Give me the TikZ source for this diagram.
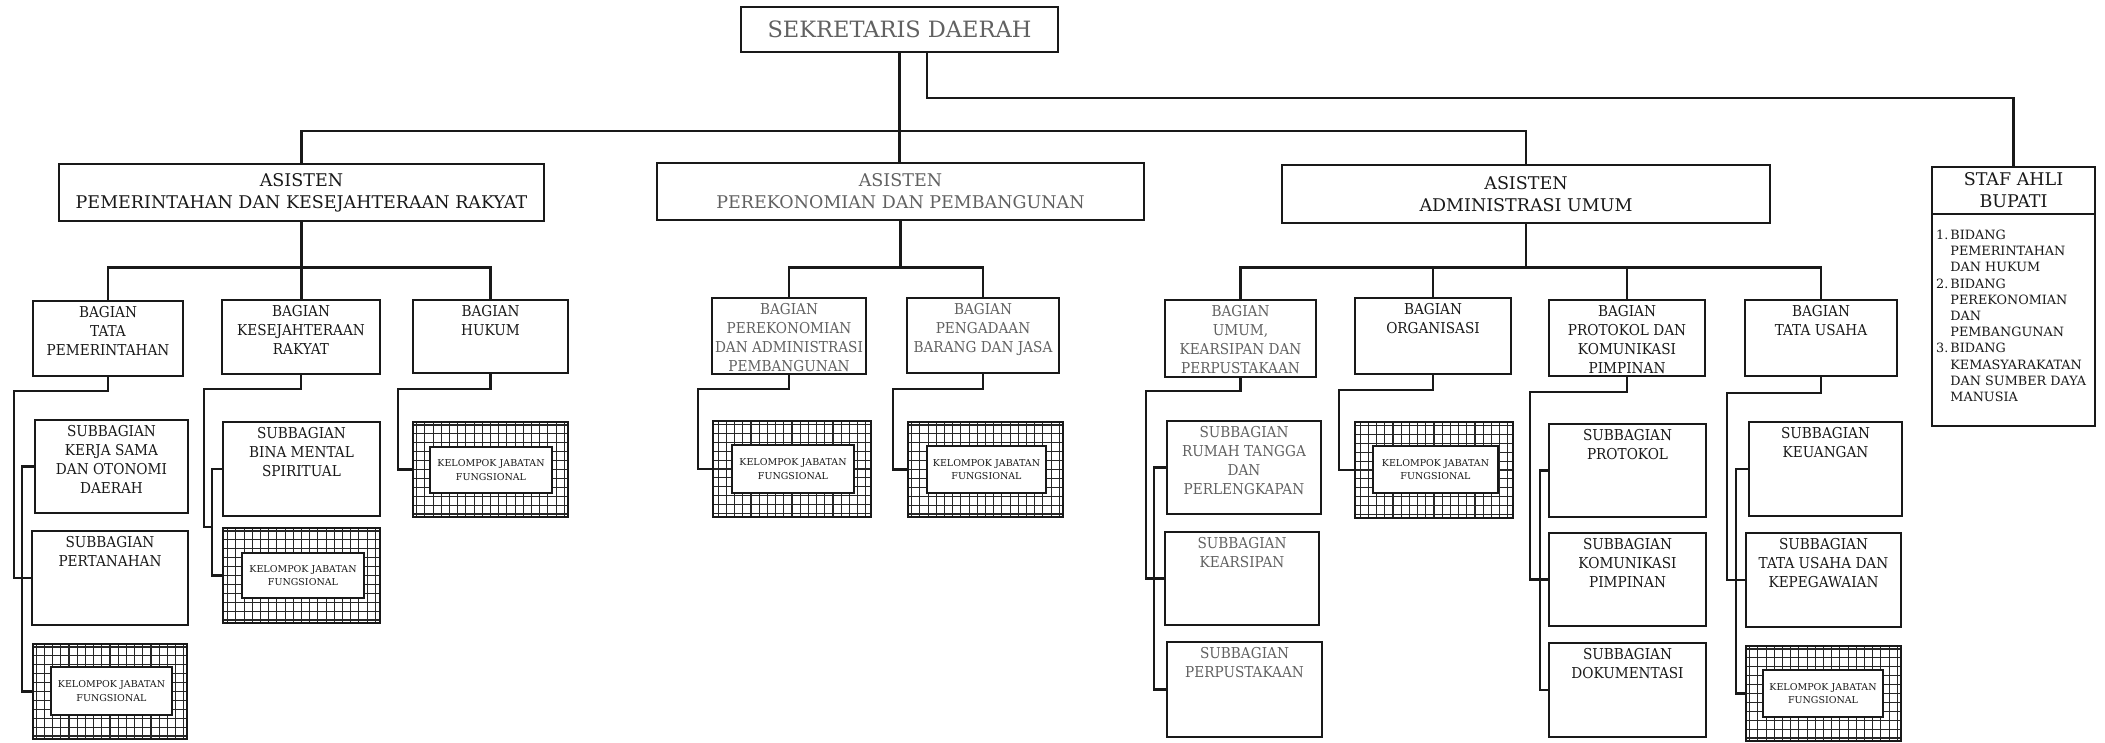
\documentclass[tikz,border=0pt]{standalone}
\usepackage{fontspec}
\setmainfont{DejaVu Serif}
\newfontfamily\narrowserif{DejaVu Serif}[FakeStretch=0.91]
\newcommand\mkbox[5]{\node[bx, minimum width={(#4)-(#2)}, minimum height={(#5)-(#3)}] (#1) at (#2,#3) {};}
\newcommand\mkgrid[9]{%
  \node[gbx, minimum width={(#4)-(#2)}, minimum height={(#5)-(#3)}] (#1) at (#2,#3) {};
  \node[ibx, minimum width={(#8)-(#6)}, minimum height={(#9)-(#7)}] (#1i) at (#6,#7) {};
  \node[kjt] (#1t) at (#1i.center) {KELOMPOK JABATAN\\FUNGSIONAL};}
\begin{document}
\begin{tikzpicture}[x=1pt,y=-1pt,
  bx/.style={draw=black!90, line width=2.6pt, inner sep=0pt, outer sep=0pt, anchor=north west},
  gbx/.style={bx, path picture={\draw[line width=1.1pt, black!85] ([xshift=-1pt,yshift=-1pt]path picture bounding box.south west) grid[xstep=8.2pt,ystep=8.9pt] (path picture bounding box.north east);}},
  ibx/.style={bx, fill=white, line width=2.3pt},
  cn/.style={draw=black!90, line width=2.2pt},
  txt/.style={inner sep=0pt, align=center, text=black!90},
  lite/.style={text=black!62},
  hdt/.style={txt, font=\fontsize{22.5}{26}\selectfont},
  ast/.style={txt, font=\fontsize{17.5}{22}\selectfont},
  bgt/.style={txt, anchor=north, font=\narrowserif\fontsize{15}{19}\selectfont},
  sbt/.style={txt, anchor=north, font=\narrowserif\fontsize{15}{19}\selectfont},
  kjt/.style={txt, font=\fontsize{9.5}{13.5}\selectfont},
  stt/.style={txt, font=\fontsize{17.5}{22}\selectfont},
  lst/.style={inner sep=0pt, anchor=north west, text=black!90, font=\fontsize{12.8}{16.2}\selectfont}]
\useasboundingbox[fill=white] (0,0) rectangle (2105,743);

% ---------- top level ----------
\mkbox{sek}{741}{7}{1058}{52}
\node[hdt, lite] (sekT) at (sek.center) {SEKRETARIS DAERAH};

\mkbox{as1}{59}{164}{544}{221}
\node[ast] (as1T) at (as1.center) {ASISTEN\\PEMERINTAHAN DAN KESEJAHTERAAN RAKYAT};
\mkbox{as2}{657}{163}{1144}{220}
\node[ast, lite] (as2T) at (as2.center) {ASISTEN\\PEREKONOMIAN DAN PEMBANGUNAN};
\mkbox{as3}{1282}{165}{1770}{223}
\node[ast] (as3T) at (as3.center) {ASISTEN\\ADMINISTRASI UMUM};

\mkbox{stafT}{1932}{167}{2095}{214}
\node[stt] (stafTT) at (stafT.center) {STAF AHLI\\BUPATI};
\mkbox{stafL}{1932}{214}{2095}{426}
\node[lst] (stafLT) at (1936,228) {\begin{tabular}{@{}l@{\hspace{2pt}}l@{}}
1. & BIDANG\\ & PEMERINTAHAN\\ & DAN HUKUM\\
2. & BIDANG\\ & PEREKONOMIAN\\ & DAN\\ & PEMBANGUNAN\\
3. & BIDANG\\ & KEMASYARAKATAN\\ & DAN SUMBER DAYA\\ & MANUSIA\end{tabular}};

% ---------- bagian ----------
\mkbox{tp}{33}{301}{183}{376}
\node[bgt] (tpT) at ([yshift=-5pt]tp.north) {BAGIAN\\TATA\\PEMERINTAHAN};
\mkbox{kr}{222}{300}{380}{374}
\node[bgt] (krT) at ([yshift=-5pt]kr.north) {BAGIAN\\KESEJAHTERAAN\\RAKYAT};
\mkbox{hk}{413}{300}{568}{373}
\node[bgt] (hkT) at ([yshift=-5pt]hk.north) {BAGIAN\\HUKUM};

\mkbox{per}{712}{298}{866}{374}
\node[bgt, lite] (perT) at ([yshift=-5pt]per.north) {BAGIAN\\PEREKONOMIAN\\DAN ADMINISTRASI\\PEMBANGUNAN};
\mkbox{pen}{907}{298}{1059}{373}
\node[bgt, lite] (penT) at ([yshift=-5pt]pen.north) {BAGIAN\\PENGADAAN\\BARANG DAN JASA};

\mkbox{um}{1165}{300}{1316}{377}
\node[bgt, lite] (umT) at ([yshift=-5pt]um.north) {BAGIAN\\UMUM,\\KEARSIPAN DAN\\PERPUSTAKAAN};
\mkbox{org}{1355}{298}{1511}{374}
\node[bgt] (orgT) at ([yshift=-5pt]org.north) {BAGIAN\\ORGANISASI};
\mkbox{pr}{1549}{300}{1705}{376}
\node[bgt] (prT) at ([yshift=-5pt]pr.north) {BAGIAN\\PROTOKOL DAN\\KOMUNIKASI\\PIMPINAN};
\mkbox{tu}{1745}{300}{1897}{376}
\node[bgt] (tuT) at ([yshift=-5pt]tu.north) {BAGIAN\\TATA USAHA};

% ---------- subbagian ----------
\mkbox{ks}{35}{420}{188}{513}
\node[sbt] (ksT) at ([yshift=-5pt]ks.north) {SUBBAGIAN\\KERJA SAMA\\DAN OTONOMI\\DAERAH};
\mkbox{pt}{32}{531}{188}{625}
\node[sbt] (ptT) at ([yshift=-5pt]pt.north) {SUBBAGIAN\\PERTANAHAN};
\mkgrid{kja}{33}{644}{187}{739}{51}{667}{172}{715}

\mkbox{bm}{223}{422}{380}{516}
\node[sbt] (bmT) at ([yshift=-5pt]bm.north) {SUBBAGIAN\\BINA MENTAL\\SPIRITUAL};
\mkgrid{kjb}{223}{528}{380}{623}{242}{553}{364}{598}

\mkgrid{kjc}{413}{422}{568}{517}{430}{447}{552}{493}
\mkgrid{kjd}{713}{421}{871}{517}{732}{445}{854}{493}
\mkgrid{kje}{908}{422}{1063}{517}{927}{446}{1046}{493}

\mkbox{rt}{1167}{421}{1321}{514}
\node[sbt, lite] (rtT) at ([yshift=-5pt]rt.north) {SUBBAGIAN\\RUMAH TANGGA\\DAN\\PERLENGKAPAN};
\mkbox{ka}{1165}{532}{1319}{625}
\node[sbt, lite] (kaT) at ([yshift=-5pt]ka.north) {SUBBAGIAN\\KEARSIPAN};
\mkbox{pp}{1167}{642}{1322}{737}
\node[sbt, lite] (ppT) at ([yshift=-5pt]pp.north) {SUBBAGIAN\\PERPUSTAKAAN};

\mkgrid{kjf}{1355}{422}{1513}{518}{1373}{446}{1498}{493}

\mkbox{sp}{1549}{424}{1706}{517}
\node[sbt] (spT) at ([yshift=-5pt]sp.north) {SUBBAGIAN\\PROTOKOL};
\mkbox{km}{1549}{533}{1706}{626}
\node[sbt] (kmT) at ([yshift=-5pt]km.north) {SUBBAGIAN\\KOMUNIKASI\\PIMPINAN};
\mkbox{dk}{1549}{643}{1706}{737}
\node[sbt] (dkT) at ([yshift=-5pt]dk.north) {SUBBAGIAN\\DOKUMENTASI};

\mkbox{ku}{1749}{422}{1902}{516}
\node[sbt] (kuT) at ([yshift=-5pt]ku.north) {SUBBAGIAN\\KEUANGAN};
\mkbox{tk}{1746}{533}{1901}{627}
\node[sbt] (tkT) at ([yshift=-5pt]tk.north) {SUBBAGIAN\\TATA USAHA DAN\\KEPEGAWAIAN};
\mkgrid{kjg}{1746}{646}{1901}{741}{1763}{670}{1883}{717}

% ---------- connectors: top ----------
\coordinate (bar1) at (0,131);
\coordinate (sbar) at (1000,98);
\coordinate (b2) at (0,267.5);
\draw[cn] (sek.south) -- (sek.south |- as2.north);
\draw[cn] (as1.north) -- (as1.north |- bar1) -- (as3.north |- bar1) -- (as3.north);
\draw[cn] ([xshift=27.5pt]sek.south) |- (sbar) -| (stafT.north);

\draw[cn] (as1.south) -- (as1.south |- kr.north);
\draw[cn] (tp.north) -- (tp.north |- b2) -- (hk.north |- b2) -- (hk.north);
\draw[cn] (as2.south) -- (as2.south |- b2);
\draw[cn] (per.north) -- (per.north |- b2) -- (pen.north |- b2) -- (pen.north);
\draw[cn] (as3.south) -- (as3.south |- b2);
\draw[cn] (um.north) -- (um.north |- b2) -- (tu.north |- b2) -- (tu.north);
\draw[cn] (org.north) -- (org.north |- b2);
\draw[cn] (pr.north) -- (pr.north |- b2);

% ---------- connectors: children ----------
\coordinate (t1) at (14,391);  \coordinate (t2) at (22,0);
\draw[cn] (tp.south) |- (t1) |- (pt.west);
\draw[cn] (ks.west) -- (ks.west -| t2) -- (kja.west -| t2) -- (kja.west);

\coordinate (k1) at (204,389); \coordinate (k2) at (212,527);
\draw[cn] (kr.south) |- (k1) |- (k2);
\draw[cn] (bm.west) -- (bm.west -| k2) -- (kjb.west -| k2) -- (kjb.west);

\coordinate (h1) at (398,389);
\draw[cn] (hk.south) |- (h1) |- (kjc.west);
\coordinate (p1) at (698,389);
\draw[cn] (per.south) |- (p1) |- (kjd.west);
\coordinate (p2) at (893,389);
\draw[cn] (pen.south) |- (p2) |- (kje.west);

\coordinate (u1) at (1146,391); \coordinate (u2) at (1154,0);
\draw[cn] (um.south) |- (u1) |- (ka.west);
\draw[cn] (rt.west) -- (rt.west -| u2) -- (pp.west -| u2) -- (pp.west);

\coordinate (o1) at (1339,390);
\draw[cn] (org.south) |- (o1) |- (kjf.west);

\coordinate (r1) at (1530,392); \coordinate (r2) at (1540,0);
\draw[cn] (pr.south) |- (r1) |- (km.west);
\draw[cn] (sp.west) -- (sp.west -| r2) -- (dk.west -| r2) -- (dk.west);

\coordinate (s1) at (1727,393); \coordinate (s2) at (1736,0);
\draw[cn] (tu.south) |- (s1) |- (tk.west);
\draw[cn] (ku.west) -- (ku.west -| s2) -- (kjg.west -| s2) -- (kjg.west);
\end{tikzpicture}
\end{document}
